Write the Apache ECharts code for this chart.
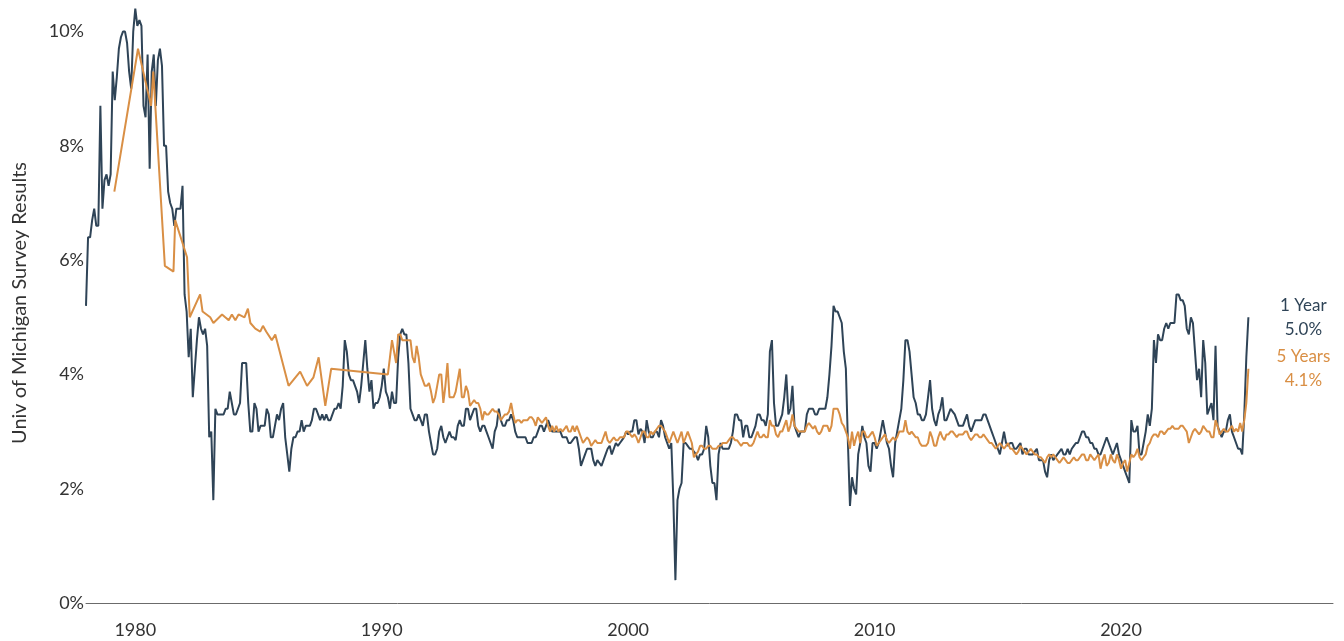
<!DOCTYPE html>
<html>
<head>
<meta charset="utf-8">
<title>Univ of Michigan inflation expectations</title>
<script src="https://cdn.jsdelivr.net/npm/echarts@6/dist/echarts.min.js"></script>
<style>
  html, body { margin: 0; padding: 0; background: #fff; }
  #chart { width: 1344px; height: 641px; }
</style>
</head>
<body>
<div id="chart"></div>
<script>
// tick labels
const xLabels = ['1980', '1990', '2000', '2010', '2020']
const yTicks = [0, 2, 4, 6, 8, 10]

// 1 year expectations, monthly from Jan 1978
const oneYearStart = 1978
const oneYear = [
  5.2, 6.4, 6.4, 6.7, 6.9, 6.6, 6.6, 8.7, 6.9, 7.4, 7.5, 7.3,
  7.5, 9.3, 8.8, 9.2, 9.7, 9.9, 10.0, 10.0, 9.8, 9.3, 9.0, 10.0,
  10.4, 10.1, 10.2, 10.1, 8.7, 8.5, 9.6, 7.6, 9.3, 9.6, 8.7, 9.5,
  9.7, 9.4, 8.0, 8.0, 7.2, 7.0, 6.9, 6.6, 6.9, 6.9, 6.9, 7.3,
  5.4, 5.1, 4.3, 4.8, 3.6, 4.1, 4.6, 5.0, 4.8, 4.7, 4.8, 4.5,
  2.9, 3.0, 1.8, 3.4, 3.3, 3.3, 3.3, 3.3, 3.4, 3.4, 3.7, 3.5,
  3.3, 3.3, 3.4, 3.5, 4.2, 4.2, 4.2, 3.5, 3.0, 3.0, 3.5, 3.4,
  3.0, 3.1, 3.1, 3.1, 3.4, 3.3, 2.9, 2.9, 3.1, 3.3, 3.2, 3.4,
  3.5, 2.9, 2.6, 2.3, 2.7, 2.9, 2.9, 3.0, 3.0, 3.2, 3.0, 3.1,
  3.1, 3.1, 3.2, 3.4, 3.4, 3.3, 3.2, 3.3, 3.2, 3.3, 3.2, 3.2,
  3.3, 3.4, 3.4, 3.5, 3.4, 3.8, 4.6, 4.4, 4.0, 3.9, 3.9, 3.8,
  3.7, 3.5, 3.8, 4.2, 4.6, 4.1, 3.7, 3.9, 3.4, 3.5, 3.5, 3.6,
  3.8, 4.1, 3.7, 3.6, 3.4, 3.7, 3.5, 3.5, 4.3, 4.7, 4.8, 4.7,
  4.7, 4.2, 3.4, 3.3, 3.2, 3.2, 3.3, 3.2, 3.1, 3.3, 3.3, 3.0,
  2.8, 2.6, 2.6, 2.7, 3.0, 3.1, 2.9, 2.8, 2.9, 3.0, 2.9, 2.9,
  2.85, 3.1, 3.2, 3.1, 3.1, 3.4, 3.4, 3.2, 3.3, 3.4, 3.4, 3.1,
  3.0, 3.1, 3.1, 3.0, 2.9, 2.8, 2.7, 3.0, 3.1, 3.4, 3.2, 3.1,
  3.1, 3.2, 3.2, 3.3, 3.2, 3.0, 2.9, 2.9, 2.9, 2.9, 2.9, 2.8,
  2.8, 2.8, 2.9, 2.9, 3.0, 3.1, 3.1, 3.0, 3.1, 3.2, 3.1, 3.0,
  3.0, 3.0, 3.0, 3.0, 2.9, 2.9, 2.9, 2.8, 2.8, 2.85, 2.9, 2.9,
  2.7, 2.4, 2.5, 2.6, 2.7, 2.7, 2.7, 2.5, 2.4, 2.5, 2.45, 2.4,
  2.5, 2.6, 2.7, 2.75, 2.6, 2.7, 2.8, 2.75, 2.8, 2.85, 2.9, 3.0,
  2.95, 3.0, 3.0, 3.2, 3.2, 2.95, 3.05, 3.0, 2.8, 3.2, 3.0, 2.9,
  2.9, 3.0, 3.0, 2.9, 3.2, 3.1, 2.9, 2.8, 2.7, 2.8, 1.8, 0.4,
  1.8, 2.0, 2.1, 2.8, 2.8, 2.75, 2.7, 2.7, 2.65, 2.6, 2.5, 2.6,
  2.6, 2.7, 3.1, 2.9, 2.4, 2.1, 2.1, 1.8, 2.6, 2.8, 2.7, 2.7,
  2.7, 2.7, 2.8, 3.0, 3.3, 3.3, 3.2, 3.2, 2.9, 3.1, 3.1, 2.9,
  2.9, 3.0, 3.1, 3.3, 3.3, 3.2, 3.2, 3.1, 3.3, 4.4, 4.6, 3.5,
  3.1, 3.1, 3.2, 3.3, 3.6, 4.0, 3.3, 3.4, 3.8, 3.1, 3.0, 2.9,
  3.0, 3.0, 3.0, 3.3, 3.4, 3.4, 3.4, 3.3, 3.3, 3.4, 3.4, 3.4,
  3.4, 3.6, 4.0, 4.5, 5.2, 5.1, 5.1, 5.0, 4.9, 4.4, 4.1, 2.8,
  1.7, 2.2, 2.0, 1.9, 2.6, 2.8, 3.1, 2.9, 2.8, 2.4, 2.3, 2.8,
  2.8, 2.7, 2.8, 3.0, 3.2, 3.0, 2.8, 2.7, 2.4, 2.2, 2.8, 3.0,
  3.2, 3.4, 3.9, 4.6, 4.6, 4.4, 4.0, 3.6, 3.5, 3.3, 3.3, 3.2,
  3.2, 3.3, 3.6, 3.9, 3.4, 3.2, 3.1, 3.3, 3.4, 3.6, 3.2, 3.2,
  3.3, 3.4, 3.35, 3.3, 3.2, 3.1, 3.1, 3.1, 3.2, 3.3, 3.1, 3.0,
  3.1, 3.2, 3.2, 3.2, 3.2, 3.3, 3.3, 3.2, 3.1, 3.0, 2.9, 2.8,
  2.7, 2.6, 2.8, 3.0, 2.8, 2.75, 2.8, 2.8, 2.7, 2.7, 2.75, 2.8,
  2.6, 2.7, 2.7, 2.6, 2.6, 2.6, 2.65, 2.7, 2.5, 2.5, 2.5, 2.3,
  2.2, 2.5, 2.6, 2.5, 2.55, 2.6, 2.65, 2.7, 2.6, 2.6, 2.7, 2.6,
  2.7, 2.75, 2.8, 2.8, 2.9, 3.0, 3.0, 2.9, 2.9, 2.8, 2.8, 2.7,
  2.7, 2.6, 2.6, 2.7, 2.8, 2.9, 2.8, 2.7, 2.6, 2.7, 2.8, 2.6,
  2.5, 2.4, 2.3, 2.2, 2.1, 3.2, 3.0, 3.0, 3.1, 2.6, 2.6, 2.8,
  3.0, 3.3, 3.1, 3.4, 4.6, 4.2, 4.7, 4.6, 4.6, 4.8, 4.9, 4.8,
  4.9, 4.9, 4.9, 5.4, 5.4, 5.3, 5.3, 5.2, 4.8, 4.7, 5.0, 4.9,
  4.4, 3.9, 4.1, 3.6, 4.6, 4.2, 3.3, 3.4, 3.5, 3.2, 4.5, 3.1,
  3.0, 2.9, 3.0, 3.0, 3.2, 3.3, 3.0, 2.9, 2.8, 2.7, 2.7, 2.6,
  3.3, 4.3, 5.0
]

// 5 years expectations: sparse readings before 1990 (decimal years)
const fiveYearEarlyDates = [
  1979.15, 1980.11, 1980.64, 1980.73, 1981.2, 1981.55, 1981.62,
  1982.1, 1982.21, 1982.63, 1982.73, 1983.04, 1983.17, 1983.52,
  1983.65, 1983.79, 1983.92, 1984.06, 1984.19, 1984.43, 1984.57,
  1984.67, 1984.87, 1985.07, 1985.18, 1985.31, 1985.54, 1985.68,
  1986.22, 1986.69, 1986.97, 1987.23, 1987.44, 1987.71, 1987.95
]
const fiveYearEarly = [
  7.2, 9.7, 8.7, 9.3, 5.9, 5.8, 6.7,
  6.05, 5.0, 5.4, 5.1, 5.0, 4.9, 5.05,
  5.0, 4.95, 5.05, 4.95, 5.05, 5.0, 5.15,
  4.9, 4.8, 4.75, 4.85, 4.75, 4.6, 4.7,
  3.8, 4.05, 3.8, 3.95, 4.3, 3.45, 4.1
]

// 5 years expectations, monthly from Apr 1990
const fiveYearStart = 1990.25
const fiveYear = [
  4.0, 4.3, 4.6, 4.4, 4.2, 4.7, 4.7, 4.6, 4.6,
  4.6, 4.6, 4.6, 4.3, 4.2, 4.5, 4.3, 4.0, 3.9, 3.8, 3.8, 3.85,
  3.7, 3.5, 3.6, 3.8, 4.0, 4.0, 3.5, 3.8, 4.2, 3.6, 3.6, 3.6,
  3.7, 3.9, 4.1, 3.6, 3.6, 3.8, 3.7, 3.45, 3.5, 3.55, 3.5, 3.5,
  3.4, 3.2, 3.35, 3.3, 3.3, 3.35, 3.4, 3.35, 3.35, 3.3, 3.2, 3.25,
  3.3, 3.3, 3.35, 3.5, 3.3, 3.15, 3.2, 3.2, 3.15, 3.2, 3.2, 3.2,
  3.25, 3.25, 3.2, 3.1, 3.25, 3.2, 3.15, 3.2, 3.25, 3.1, 3.0, 3.1,
  3.0, 3.1, 3.0, 3.05, 3.0, 3.05, 3.1, 3.0, 3.0, 3.1, 3.0, 3.1,
  3.0, 2.9, 2.8, 2.85, 2.9, 2.85, 2.75, 2.8, 2.85, 2.8, 2.8, 2.8,
  2.9, 3.0, 2.85, 2.8, 2.85, 2.9, 2.85, 2.85, 2.9, 2.9, 2.9, 3.0,
  3.0, 2.95, 2.9, 2.95, 2.9, 2.8, 2.9, 3.0, 3.0, 2.9, 2.9, 3.0,
  2.95, 3.0, 3.05, 3.1, 3.1, 3.05, 3.0, 2.9, 2.8, 2.9, 3.0, 2.9,
  2.8, 2.9, 3.0, 2.8, 2.9, 3.0, 2.9, 2.8, 2.55, 2.6, 2.65, 2.75,
  2.75, 2.7, 2.7, 2.75, 2.75, 2.7, 2.7, 2.7, 2.75, 2.75, 2.8, 2.8,
  2.8, 2.85, 2.9, 2.9, 2.85, 2.85, 2.8, 2.75, 2.8, 2.8, 2.8, 2.75,
  2.75, 2.8, 2.9, 3.0, 2.9, 2.9, 2.95, 2.9, 2.9, 3.2, 3.1, 3.1,
  2.95, 2.9, 3.0, 3.0, 3.1, 3.2, 3.0, 3.1, 3.3, 3.1, 3.05, 3.0,
  3.0, 3.0, 3.0, 3.1, 3.15, 3.1, 3.05, 3.1, 3.0, 2.95, 3.0, 3.1,
  3.1, 3.1, 3.0, 3.1, 3.4, 3.4, 3.4, 3.3, 3.15, 3.1, 3.0, 2.9,
  2.7, 3.0, 2.75, 2.9, 3.0, 2.8, 3.0, 3.0, 2.9, 2.9, 2.95, 3.0,
  2.9, 2.75, 2.8, 2.85, 2.9, 2.95, 2.85, 2.8, 2.85, 2.9, 2.85, 2.9,
  3.0, 3.0, 3.0, 3.2, 3.0, 2.95, 3.0, 2.95, 2.9, 2.9, 2.8, 2.75,
  2.75, 2.75, 2.8, 3.0, 2.9, 2.75, 2.75, 2.9, 3.0, 2.9, 2.85, 2.95,
  2.95, 3.0, 3.0, 2.95, 2.9, 2.95, 2.95, 2.95, 3.0, 3.0, 2.9, 2.85,
  2.9, 2.95, 2.95, 2.9, 2.9, 2.95, 2.9, 2.85, 2.8, 2.8, 2.75, 2.7,
  2.75, 2.8, 2.75, 2.7, 2.75, 2.8, 2.7, 2.7, 2.65, 2.6, 2.65, 2.75,
  2.7, 2.65, 2.6, 2.65, 2.7, 2.65, 2.6, 2.6, 2.55, 2.55, 2.5, 2.45,
  2.55, 2.6, 2.55, 2.6, 2.55, 2.5, 2.45, 2.5, 2.55, 2.5, 2.45, 2.45,
  2.5, 2.55, 2.5, 2.5, 2.55, 2.6, 2.6, 2.5, 2.5, 2.6, 2.55, 2.5,
  2.55, 2.6, 2.35, 2.5, 2.6, 2.4, 2.45, 2.6, 2.5, 2.45, 2.6, 2.5,
  2.35, 2.45, 2.5, 2.3, 2.45, 2.6, 2.55, 2.6, 2.7, 2.55, 2.5, 2.55,
  2.6, 2.75, 2.8, 2.9, 2.95, 2.95, 2.9, 3.0, 3.0, 2.95, 3.0, 3.05,
  3.05, 3.1, 3.05, 3.05, 3.05, 3.1, 3.1, 3.05, 3.0, 2.8, 2.9, 3.0,
  3.05, 3.0, 2.95, 3.0, 3.1, 3.05, 3.0, 3.0, 2.9, 2.9, 3.2, 3.1,
  2.95, 3.0, 3.05, 3.0, 3.0, 3.05, 3.1, 3.0, 3.05, 3.0, 3.15, 3.0,
  3.2, 3.5, 4.1
]

const BLUE = '#2f4457'
const ORANGE = '#d98f45'
const FONT = '"Source Sans Pro", Lato, "Noto Sans", sans-serif'

const oneYearData = oneYear.map((v, i) => [oneYearStart + i / 12, v])
const fiveYearData = fiveYearEarly.map((v, i) => [fiveYearEarlyDates[i], v])
  .concat(fiveYear.map((v, i) => [fiveYearStart + i / 12, v]))

function endLabel(color) {
  return {
    show: true,
    formatter: (p) => `${p.seriesName}\n${p.value[1].toFixed(1)}%`,
    color,
    fontFamily: FONT,
    fontSize: 17,
    lineHeight: 24,
    align: 'center',
    distance: 0,
    offset: [55, 0]
  }
}

const chart = echarts.init(document.getElementById('chart'))

chart.setOption({
  animation: false,
  textStyle: { fontFamily: FONT },
  grid: {
    left: 86, right: 11, top: 3, bottom: 38,
    containLabel: false,
    outerBoundsMode: 'none'
  },
  xAxis: {
    type: 'value',
    min: 1978,
    max: 2028.6,
    interval: 2,
    offset: 6,
    axisLine: { lineStyle: { color: '#6b6b6b', width: 1 } },
    axisTick: { show: false },
    splitLine: { show: false },
    axisLabel: {
      color: '#333',
      fontSize: 18,
      margin: 12,
      showMaxLabel: false,
      formatter: (v) => xLabels.includes(String(v)) ? String(v) : ''
    }
  },
  yAxis: {
    type: 'value',
    min: 0,
    max: 10.5,
    interval: 2,
    name: 'Univ of Michigan Survey Results',
    nameLocation: 'middle',
    nameGap: 56,
    nameTextStyle: { color: '#333', fontSize: 20 },
    axisLine: { show: false },
    axisTick: { show: false },
    splitLine: { show: false },
    axisLabel: {
      color: '#333',
      fontSize: 18,
      margin: 2,
      formatter: (v) => yTicks.includes(v) ? v + '%' : ''
    }
  },
  series: [
    {
      name: '1 Year',
      type: 'line',
      data: oneYearData,
      showSymbol: false,
      lineStyle: { color: BLUE, width: 2 },
      itemStyle: { color: BLUE },
      endLabel: endLabel(BLUE)
    },
    {
      name: '5 Years',
      type: 'line',
      data: fiveYearData,
      showSymbol: false,
      lineStyle: { color: ORANGE, width: 2 },
      itemStyle: { color: ORANGE },
      endLabel: endLabel(ORANGE)
    }
  ]
})
</script>
</body>
</html>
